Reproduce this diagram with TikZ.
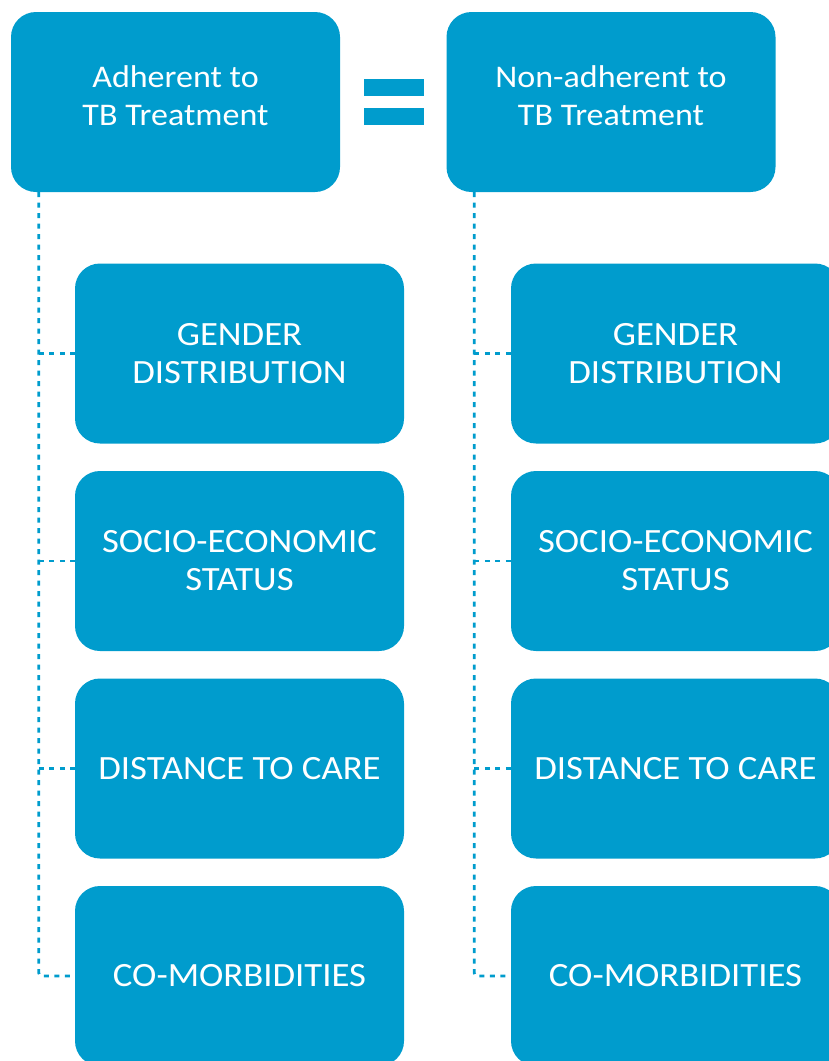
\documentclass[tikz,border=0pt]{standalone}
\usepackage{fontspec}
\setmainfont{Carlito}[FakeStretch=1.08]
\usetikzlibrary{positioning}
\definecolor{tbBlue}{HTML}{009CCD}

\begin{document}
\begin{tikzpicture}[x=1pt, y=-1pt,
    box/.style={fill=tbBlue, rounded corners=25pt, minimum width=329pt,
      minimum height=180pt, inner sep=0pt, text=white, align=center,
      font=\fontsize{34}{38}\selectfont},
    headbox/.style={box, text depth=12pt, font=\fontsize{31.5}{38}\selectfont},
    link/.style={tbBlue, line width=2.8pt, dash pattern=on 5pt off 5.5pt,
      rounded corners=3pt}]
  \clip (0,0) rectangle (829,1061);
  % top row
  \node[headbox] (adh) at (175.5,102) {Adherent to\\TB Treatment};
  \node[headbox] (non) at (611,102)   {Non-adherent to\\TB Treatment};
  \fill[tbBlue] (364,79)  rectangle (424,96);
  \fill[tbBlue] (364,108) rectangle (424,125);
  % factor boxes
  \foreach \side/\cx in {l/239.5, r/675.5} {
    \foreach \n/\cy/\txt in {1/353.5/{GENDER\\DISTRIBUTION},
        2/561/{SOCIO-ECONOMIC\\STATUS}, 3/768.5/{DISTANCE TO CARE},
        4/976/{CO-MORBIDITIES}} {
      \node[box] (\side\n) at (\cx,\cy) {\txt};
    }
  }
  % dotted connectors
  \foreach \side/\top in {l/adh, r/non} {
    \coordinate (\side spine) at ([xshift=28pt]\top.south west);
    \draw[link] (\side spine) |- (\side4.west);
    \foreach \n in {1,2,3}
      \draw[link] (\side\n.west -| \side spine) -- (\side\n.west);
  }
\end{tikzpicture}
\end{document}
